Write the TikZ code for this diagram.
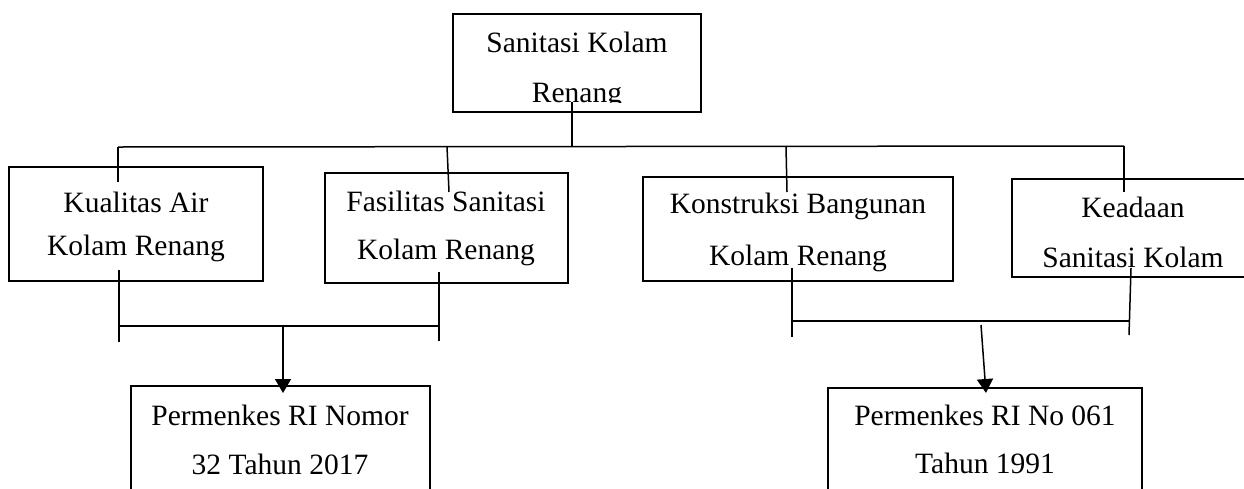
\documentclass[tikz,border=0pt]{standalone}
\usepackage{fontspec}
\setmainfont{Liberation Serif}
\usetikzlibrary{arrows.meta}
\tikzset{
  boxnode/.style={draw=black, line width=1.6pt, rectangle, inner sep=0pt, outer sep=0pt},
  txt/.style={anchor=base, inner sep=0pt, font=\fontsize{29.5}{35}\selectfont},
  conn/.style={line width=1.5pt, line cap=butt},
  arr/.style={conn, -{Triangle[length=14pt,width=16pt]}}
}
\begin{document}
\begin{tikzpicture}[x=1pt,y=-1pt]
\useasboundingbox (0,0) rectangle (1244,488);
\clip (0,0) rectangle (1244,488);
\fill[white] (0,0) rectangle (1244,488);
% boxes
\node[boxnode, minimum width=248pt, minimum height=98pt] (T) at (577,63) {};
\node[boxnode, minimum width=254pt, minimum height=114pt] (A) at (136,224) {};
\node[boxnode, minimum width=243pt, minimum height=110pt] (B) at (446.5,228) {};
\node[boxnode, minimum width=310pt, minimum height=104pt] (C) at (798,229) {};
\node[boxnode, minimum width=242pt, minimum height=98pt] (D) at (1133,228) {};
\node[boxnode, minimum width=299pt, minimum height=114pt] (P1) at (280.5,443) {};
\node[boxnode, minimum width=314pt, minimum height=112pt] (P2) at (985,444) {};
% texts
\node[txt] (T1) at (577,52) {Sanitasi Kolam};
\begin{scope}
\clip (453,14) rectangle (701,102.5);
\node[txt] (T2) at (577,102) {Renang};
\end{scope}
\node[txt] (A1) at (136,212) {Kualitas Air};
\node[txt] (A2) at (136,255) {Kolam Renang};
\node[txt] (B1) at (446,211) {Fasilitas Sanitasi};
\node[txt] (B2) at (446,259) {Kolam Renang};
\node[txt] (C1) at (798,213) {Konstruksi Bangunan};
\node[txt] (C2) at (798,265) {Kolam Renang};
\node[txt] (D1) at (1133,217) {Keadaan};
\node[txt] (D2) at (1133,267) {Sanitasi Kolam};
\node[txt] (P1a) at (280,425) {Permenkes RI Nomor};
\node[txt] (P1b) at (280,474) {32 Tahun 2017};
\node[txt] (P2a) at (985,425) {Permenkes RI No 061};
\node[txt] (P2b) at (985,473) {Tahun 1991};
% connector coordinates
\coordinate (t0) at (572,102);
\coordinate (tb) at (572,146.5);
\coordinate (busL) at (118,147);
\coordinate (busR) at (1124,146);
\coordinate (aIn) at (118,182);
\coordinate (bTop) at (447,146.5);
\coordinate (bIn) at (449,192);
\coordinate (cTop) at (786,146.5);
\coordinate (cIn) at (787,192);
\coordinate (dIn) at (1124,192);
\coordinate (aOut) at (119,270);
\coordinate (aLow) at (119,342);
\coordinate (bOut) at (439,272);
\coordinate (bLow) at (439,341);
\coordinate (lbL) at (119,326);
\coordinate (lbR) at (439,326);
\coordinate (lArr) at (283,326);
\coordinate (lTip) at (283,393);
\coordinate (cOut) at (792,268);
\coordinate (cLow) at (792,337);
\coordinate (dOut) at (1131,268);
\coordinate (dLow) at (1129,335);
\coordinate (rbL) at (792,321);
\coordinate (rbR) at (1129,321);
\coordinate (rArr) at (981,325);
\coordinate (rTip) at (986,393);
% connectors
\draw[conn] (t0) -- (tb);
\draw[conn] (busL) -- (busR);
\draw[conn] (busL) -- (aIn);
\draw[conn] (bTop) -- (bIn);
\draw[conn] (cTop) -- (cIn);
\draw[conn] (busR) -- (dIn);
\draw[conn] (aOut) -- (aLow);
\draw[conn] (bOut) -- (bLow);
\draw[conn] (lbL) -- (lbR);
\draw[arr] (lArr) -- (lTip);
\draw[conn] (cOut) -- (cLow);
\draw[conn] (dOut) -- (dLow);
\draw[conn] (rbL) -- (rbR);
\draw[arr] (rArr) -- (rTip);
\end{tikzpicture}
\end{document}
